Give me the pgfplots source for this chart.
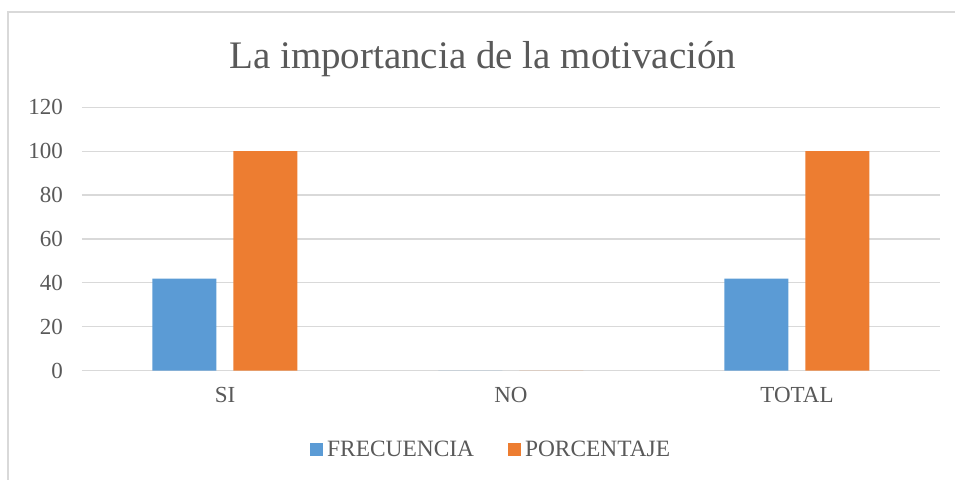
\documentclass[border=0pt]{standalone}
\usepackage{fontspec}
\setmainfont{Liberation Serif}
\usepackage{pgfplots}
\pgfplotsset{compat=1.18}
\definecolor{frecuencia}{HTML}{5B9BD5}
\definecolor{porcentaje}{HTML}{ED7D31}
\definecolor{gridgray}{HTML}{D9D9D9}
\definecolor{textgray}{HTML}{595959}

\begin{document}
\begin{tikzpicture}
\useasboundingbox (-41pt,-54.65pt) rectangle (436.5pt,185.35pt);
% marco exterior del grafico (solo se ven los lados izquierdo y superior)
\draw[gridgray, line width=0.7pt] (-37pt,-60pt) -- (-37pt,179.35pt) -- (445pt,179.35pt);
\begin{axis}[
    at={(0pt,0pt)}, anchor=south west,
    scale only axis,
    width=429pt, height=131.7pt,
    ybar,
    bar width=0.224,
    xmin=-0.5, xmax=2.5,
    ymin=0, ymax=120,
    xtick={0,1,2},
    xticklabels={SI,NO,TOTAL},
    ytick={0,20,40,60,80,100,120},
    axis line style={draw=none},
    ymajorgrids,
    grid style={gridgray, line width=0.6pt},
    major tick length=0pt,
    /pgf/number format/assume math mode=true,
    ticklabel style={font=\fontsize{11.5}{13}\selectfont, text=textgray},
    yticklabel style={xshift=-6pt},
    xticklabel style={yshift=-5pt},
    every axis title shift=0pt,
    title={La importancia de la motivación},
    title style={at={(0.467,1.149)}, anchor=base,
        font=\fontsize{19.5}{23}\selectfont, text=textgray},
    legend style={at={(0.478,-0.301)}, anchor=center, draw=none,
        legend columns=2, font=\fontsize{11.7}{13}\selectfont, text=textgray,
        /tikz/every even column/.append style={column sep=15pt}},
    legend image code/.code={\fill[#1] (0pt,-3.25pt) rectangle (6.5pt,3.25pt);},
    clip=false,
]
\addplot[fill=frecuencia, draw=none, bar shift=-0.142]
    coordinates {(0,42) (1,0) (2,42)};
\addlegendentry{FRECUENCIA}
\addplot[fill=porcentaje, draw=none, bar shift=0.141]
    coordinates {(0,100) (1,0) (2,100)};
\addlegendentry{PORCENTAJE}
\end{axis}
\end{tikzpicture}
\end{document}
